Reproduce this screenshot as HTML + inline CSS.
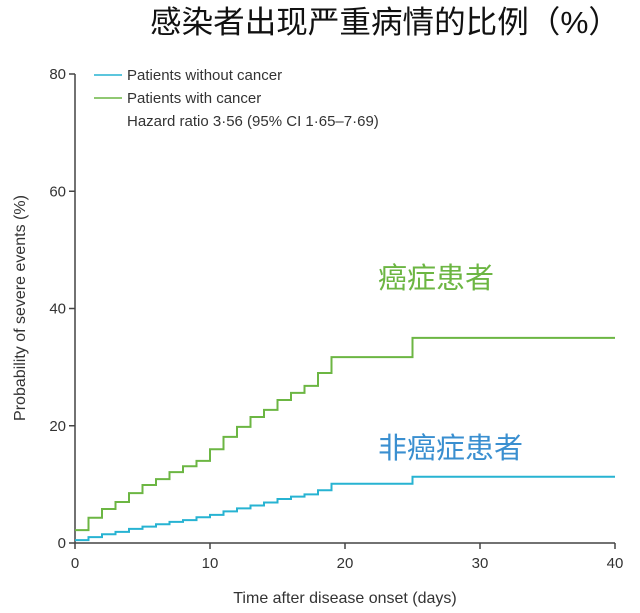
<!DOCTYPE html>
<html><head><meta charset="utf-8"><style>
body{margin:0;background:#fff;}
svg{display:block;font-family:"Liberation Sans","Noto Sans CJK SC",sans-serif;}
</style></head><body>
<svg width="640" height="613" viewBox="0 0 640 613">
<text x="150" y="33" font-size="31" fill="#111" textLength="470" lengthAdjust="spacingAndGlyphs">感染者出现严重病情的比例（%）</text>
<g id="axes"></g>
<g id="series"></g>
<g>
<line x1="94" y1="75" x2="122" y2="75" stroke="#27b3d2" stroke-width="1.5"/>
<text x="127" y="80" font-size="15" fill="#333">Patients without cancer</text>
<line x1="94" y1="98" x2="122" y2="98" stroke="#6cb643" stroke-width="1.5"/>
<text x="127" y="103" font-size="15" fill="#333">Patients with cancer</text>
<text x="127" y="126" font-size="15" fill="#333">Hazard ratio 3·56 (95% CI 1·65–7·69)</text>
</g>
<text x="378" y="288" font-size="29" fill="#6cb643">癌症患者</text>
<text x="378" y="458" font-size="29" fill="#3a8fd0">非癌症患者</text>
<text x="345" y="603" font-size="16" fill="#333" text-anchor="middle">Time after disease onset (days)</text>
<text transform="translate(25,308) rotate(-90)" font-size="16" fill="#333" text-anchor="middle">Probability of severe events (%)</text>
</svg>
<script>
const days = [0,1,2,3,4,5,6,7,8,9,10,11,12,13,14,15,16,17,18,19,25,40];
const cancerVals = [2.2,4.3,5.8,7.0,8.5,9.9,10.9,12.1,13.1,14.0,16.0,18.1,19.8,21.5,22.7,24.4,25.6,26.8,29.0,31.7,35.0,35.0];
const noCancerVals = [0.5,1.0,1.5,1.9,2.4,2.8,3.2,3.6,3.9,4.4,4.8,5.4,5.9,6.4,6.9,7.5,7.9,8.3,9.0,10.1,11.3,11.3];
const xTicks = [0,10,20,30,40];
const yTicks = [0,20,40,60,80];
const NS="http://www.w3.org/2000/svg";
const xs = v => 75 + v*13.5;
const ys = v => 543 - v*5.8625;
const axes=document.getElementById('axes');
function mk(tag,attrs,parent){const e=document.createElementNS(NS,tag);for(const k in attrs)e.setAttribute(k,attrs[k]);parent.appendChild(e);return e;}
let a=mk('line',{x1:75,y1:ys(80),x2:75,y2:543,stroke:'#444','stroke-width':1.5},axes);


a=mk('line',{x1:75,y1:543,x2:615,y2:543,stroke:'#444','stroke-width':1.5},axes);


xTicks.forEach(t=>{
 const l=mk('line',{x1:xs(t),y1:543,x2:xs(t),y2:549,stroke:'#444','stroke-width':1.5},axes);
 
 
 const tx=mk('text',{x:xs(t),y:568,'font-size':15,fill:'#333','text-anchor':'middle'},axes);
 tx.textContent=t;
 
 
});
yTicks.forEach(t=>{
 const l=mk('line',{x1:69,y1:ys(t),x2:75,y2:ys(t),stroke:'#444','stroke-width':1.5},axes);
 
 
 const tx=mk('text',{x:66,y:ys(t)+5,'font-size':15,fill:'#333','text-anchor':'end'},axes);
 tx.textContent=t;
 
 
});
function step(vals,color,name){
 let d='M'+xs(days[0])+','+ys(vals[0]);
 for(let i=1;i<days.length;i++){d+=' H'+xs(days[i])+' V'+ys(vals[i]);}
 const p=mk('path',{d:d,fill:'none',stroke:color,'stroke-width':2},document.getElementById('series'));
 
 
}
step(cancerVals,'#6cb643','line-with-cancer');
step(noCancerVals,'#27b3d2','line-without-cancer');
</script>
</body></html>
